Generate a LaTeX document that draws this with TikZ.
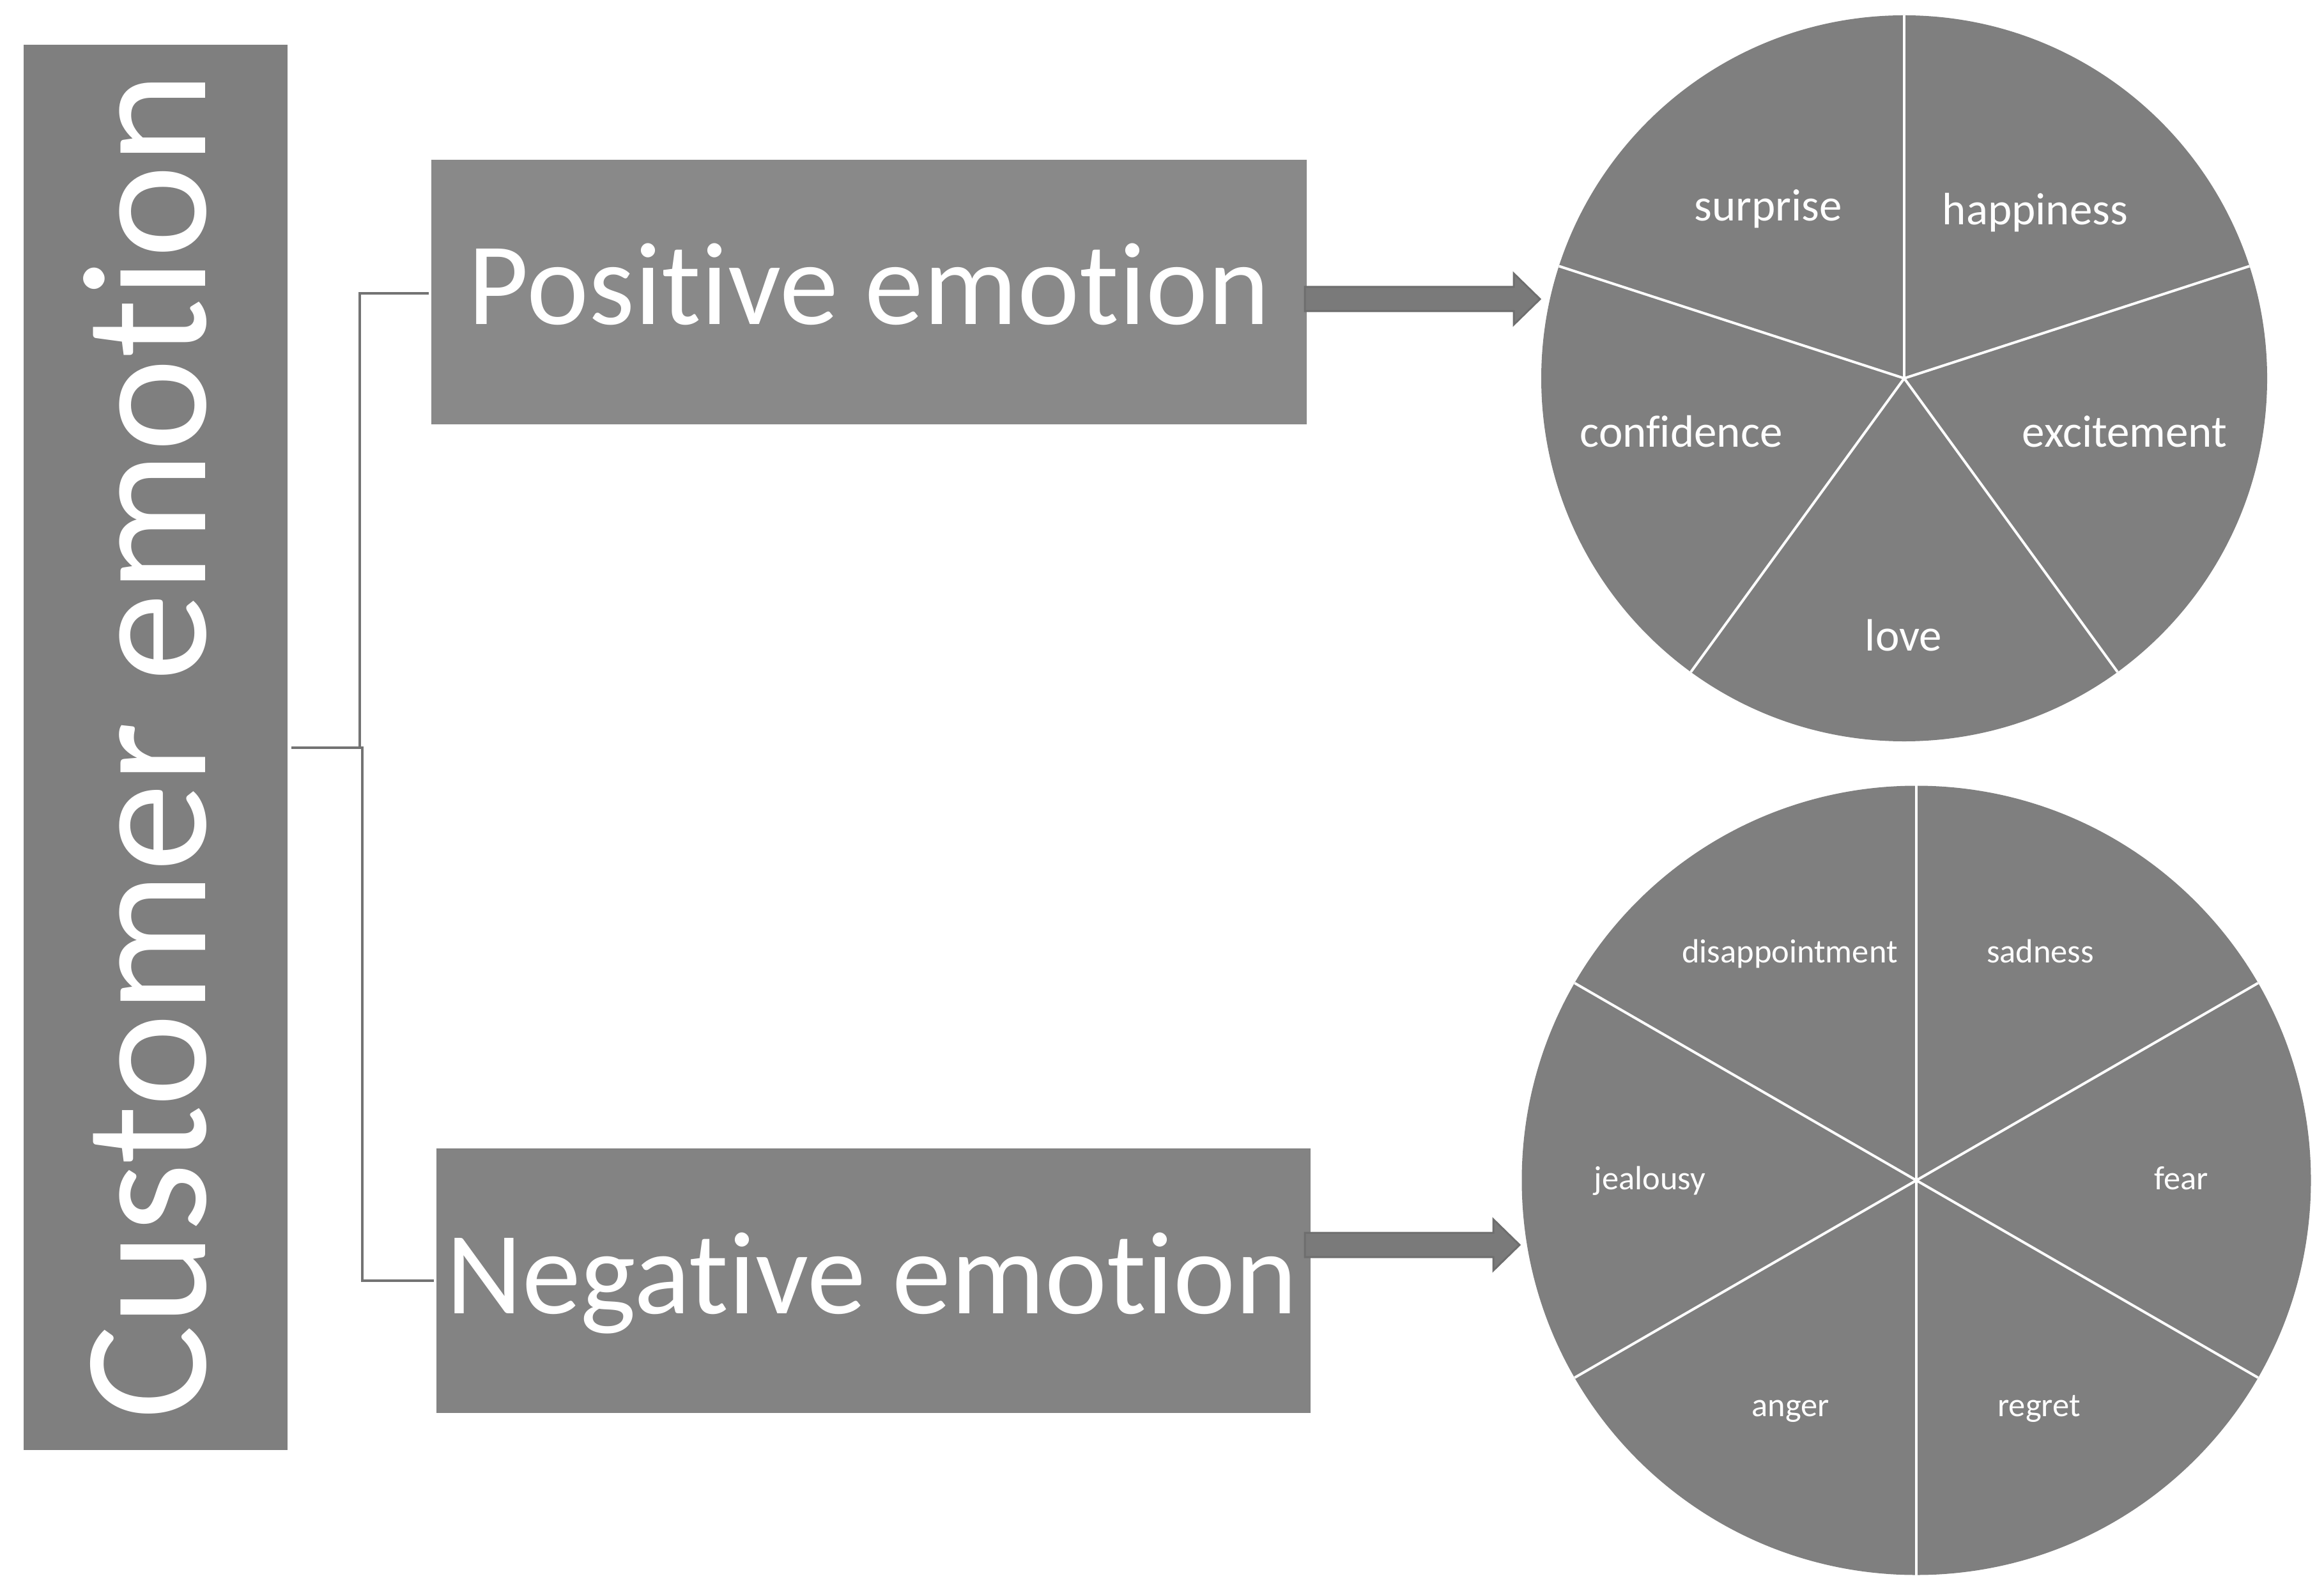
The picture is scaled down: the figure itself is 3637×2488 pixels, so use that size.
\documentclass[tikz,border=0pt]{standalone}
\usepackage{fontspec}
\setmainfont[Ligatures={NoCommon}]{Carlito}
\usetikzlibrary{calc}
\definecolor{gA}{HTML}{7F7F7F}
\definecolor{gPos}{HTML}{898989}
\definecolor{gNeg}{HTML}{838383}
\definecolor{gLine}{HTML}{737373}
\definecolor{gArrow}{HTML}{7A7A7A}
\definecolor{gArrowB}{HTML}{6E6E6E}
\begin{document}
\begin{tikzpicture}[x=0.2pt,y=-0.2pt,
  box/.style={rectangle, inner sep=0pt, outer sep=0pt, draw=none},
  lbl/.style={text=white, anchor=base, inner sep=0pt},
  big/.style={font=\fontsize{36.8}{40}\selectfont},
  pieA/.style={font=\fontsize{14.2}{16}\selectfont},
  pieB/.style={font=\fontsize{10.5}{12}\selectfont},
  conn/.style={draw=gLine, line width=0.8pt},
  sep/.style={draw=white, line width=0.8pt},
  pie/.style={circle, fill=gA, inner sep=0pt, outer sep=0pt, draw=none},
  fatarrow/.style={fill=gArrow, draw=gArrowB, line width=0.6pt, line join=miter}]
\useasboundingbox (0,0) rectangle (3637,2488);
% left box
\node[box, fill=gA, minimum width=82.6pt, minimum height=439.8pt] (cust) at (243.5,1169.5) {};
\node[lbl, rotate=90, font=\fontsize{55.5}{60}\selectfont] (custt) at (321,1167) {Customer emotion};
% category boxes
\node[box, fill=gPos, minimum width=274pt, minimum height=82.8pt] (pos) at (1360,457) {};
\node[lbl, big] (post) at (1360,508) {Positive emotion};
\node[box, fill=gNeg, minimum width=273.6pt, minimum height=82.8pt] (neg) at (1367,2004) {};
\node[lbl, big] (negt) at (1364,2055) {Negative emotion};
% connectors
\draw[conn] (cust.east) ++(6,0) -- ++(107,0) |- ($(pos.west)+(-4,2)$);
\draw[conn] (cust.east) ++(6,0) -- ++(111,0) |- ($(neg.west)+(-4,0)$);
% pies
\node[pie, minimum size=227.2pt] (pie1) at (2980,592) {};
\foreach \a in {90,162,234,306,18} \draw[sep] (pie1.center) -- (pie1.\a);
\node[lbl, pieA] (l1) at (2767,346) {surprise};
\node[lbl, pieA] (l2) at (3185,352) {happiness};
\node[lbl, pieA] (l3) at (2631,700) {confidence};
\node[lbl, pieA] (l4) at (3325,700) {excitement};
\node[lbl, pieA] (l5) at (2979,1019) {love};
\node[pie, minimum size=247pt] (pie2) at (2999,1847) {};
\foreach \a in {90,150,210,270,330,30} \draw[sep] (pie2.center) -- (pie2.\a);
\node[lbl, pieB] (m1) at (2801,1506) {disappointment};
\node[lbl, pieB] (m2) at (3193,1506) {sadness};
\node[lbl, pieB] (m3) at (2582,1861) {jealousy};
\node[lbl, pieB] (m4) at (3414,1861) {fear};
\node[lbl, pieB] (m5) at (2802,2216) {anger};
\node[lbl, pieB] (m6) at (3191,2216) {regret};
% arrows
\coordinate (a1s) at ($(pos.east)+(-3,11)$);
\coordinate (a1e) at (2410,468);
\draw[fatarrow] ($(a1s)+(0,-19)$) -- ($(a1e)+(-41,-19)$) -- ($(a1e)+(-41,-40)$) -- (a1e) -- ($(a1e)+(-41,40)$) -- ($(a1e)+(-41,19)$) -- ($(a1s)+(0,19)$) -- cycle;
\coordinate (a2s) at ($(neg.east)+(-9,-56)$);
\coordinate (a2e) at (2378,1948);
\draw[fatarrow] ($(a2s)+(0,-19)$) -- ($(a2e)+(-41,-19)$) -- ($(a2e)+(-41,-40)$) -- (a2e) -- ($(a2e)+(-41,40)$) -- ($(a2e)+(-41,19)$) -- ($(a2s)+(0,19)$) -- cycle;
\end{tikzpicture}
\end{document}
